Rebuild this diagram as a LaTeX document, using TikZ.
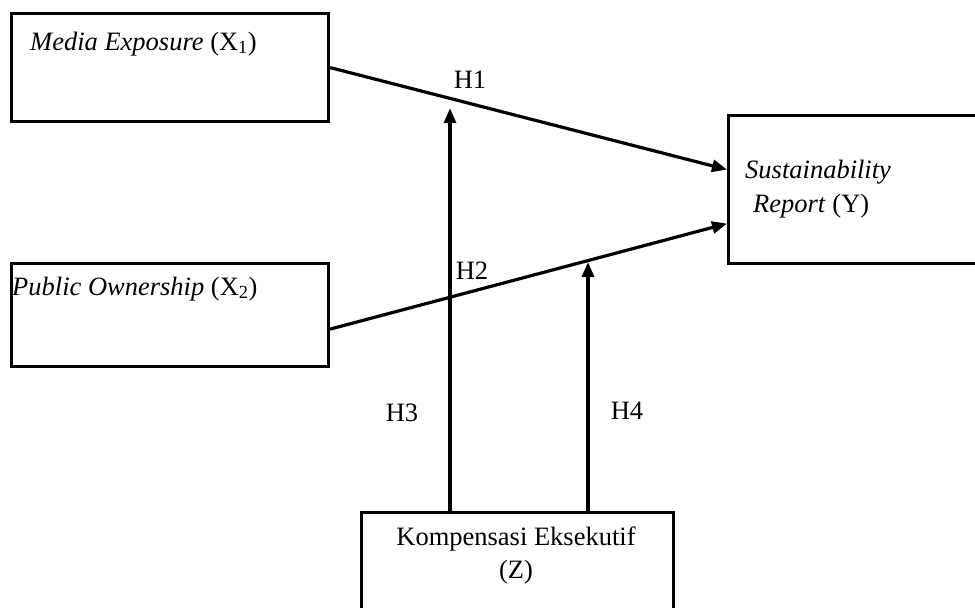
\documentclass[tikz,border=0pt]{standalone}
\usepackage{fontspec}
\setmainfont{Liberation Serif}
\usetikzlibrary{calc,arrows.meta}
\begin{document}
\begin{tikzpicture}[x=1pt,y=-1pt,
  box/.style={draw=black,line width=3.2pt,rectangle,anchor=north west,inner sep=0pt},
  lbl/.style={inner sep=0pt,font=\fontsize{26.5}{34}\selectfont},
  conn/.style={line width=3.2pt,-{Triangle[length=15pt,width=12pt]}}]
\useasboundingbox (0,0) rectangle (975,608);
% boxes
\node[box,minimum width=317pt,minimum height=108pt] (me) at (10,12) {};
\node[box,minimum width=317pt,minimum height=103pt] (po) at (10,262) {};
\node[box,minimum width=270pt,minimum height=148pt] (sr) at (727,114) {};
\node[box,minimum width=312pt,minimum height=110pt] (kz) at (360,511) {};
% box texts
\node[lbl,anchor=base west] (tme) at (30,50) {\textit{Media Exposure} (X\textsubscript{1})};
\node[lbl,anchor=base west] (tpo) at (12,295) {\textit{Public Ownership} (X\textsubscript{2})};
\node[lbl,anchor=base west] (tsr1) at (745,178) {\textit{Sustainability}};
\node[lbl,anchor=base west] (tsr2) at (753,212) {\textit{Report} (Y)};
\node[lbl,anchor=base] (tkz1) at (516,545) {Kompensasi Eksekutif};
\node[lbl,anchor=base] (tkz2) at (516,578) {(Z)};
% anchor points
\coordinate (a1) at ($(me.east)+(0,0)$);
\coordinate (b1) at ($(sr.west)+(0,-20)$);
\coordinate (a2) at ($(po.east)+(0,14)$);
\coordinate (b2) at ($(sr.west)+(0,34)$);
% main connectors
\draw[conn] (a1) -- coordinate[pos=0.310] (m1) (b1);
\draw[conn] (a2) -- coordinate[pos=0.655] (m2) (b2);
% moderation arrows
\coordinate (s1) at (kz.north -| 450,0);
\coordinate (s2) at (kz.north -| 588,0);
\draw[conn] (s1) -- ($(450,0 |- m1)+(0,9)$) coordinate (e1);
\draw[conn] (s2) -- ($(588,0 |- m2)+(0,2)$) coordinate (e2);
% hypothesis labels
\node[lbl,anchor=base] (h1) at (470,88) {H1};
\node[lbl,anchor=base] (h2) at (472,279) {H2};
\node[lbl,anchor=base] (h3) at (402,421) {H3};
\node[lbl,anchor=base] (h4) at (627,419) {H4};
\end{tikzpicture}
\end{document}
